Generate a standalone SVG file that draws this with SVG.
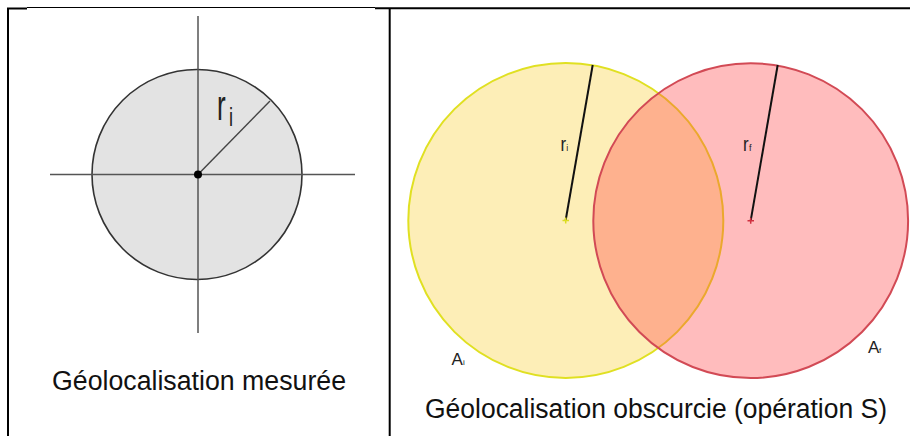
<svg xmlns="http://www.w3.org/2000/svg" width="911" height="436" viewBox="0 0 911 436">
<style>
.border{stroke:#000;stroke-width:2;fill:none}
.axis{stroke:#555;stroke-width:1.5;fill:none}
.rad{stroke:#111;stroke-width:2;fill:none}
.cap{font-family:"Liberation Sans",Arial,sans-serif;fill:#111}
.lbl{font-family:"Liberation Sans",Arial,sans-serif;fill:#222}
</style>
<rect width="911" height="436" fill="#fff"/>
<g id="table">
<line class="border" x1="8" y1="8" x2="8" y2="436"/>
<line class="border" x1="389.7" y1="8" x2="389.7" y2="436"/>
<line class="border" x1="7" y1="8.5" x2="27" y2="8.5"/>
<line x1="27" y1="7.5" x2="375" y2="7.5" stroke="#000" stroke-width="1"/>
<line class="border" x1="375" y1="8.3" x2="910" y2="8.3"/>
</g>
<g id="measured">
<circle cx="197" cy="174.5" r="105" fill="#e3e3e3" stroke="#333" stroke-width="1.6"/>
<line class="axis" x1="198" y1="16" x2="198" y2="333"/>
<line class="axis" x1="50" y1="174.5" x2="355" y2="174.5"/>
<line x1="198" y1="174.5" x2="270" y2="101" stroke="#444" stroke-width="1.4"/>
<circle cx="198" cy="174.5" r="4" fill="#000"/>
<text class="lbl" transform="translate(217,120) scale(0.62,1)" font-size="42">r</text>
<text class="lbl" transform="translate(229,126) scale(0.7,1)" font-size="26">i</text>
<text class="cap" x="52" y="390" font-size="27" textLength="294" lengthAdjust="spacingAndGlyphs">Géolocalisation mesurée</text>
</g>
<g id="obscured">
<g id="circle-i">
<circle cx="565.8" cy="220.5" r="157.5" fill="#fdeeb7" stroke="#e0e022" stroke-width="2"/>
</g>
<g id="circle-f">
<circle cx="750.7" cy="220.7" r="157.4" fill="rgb(255,64,66)" fill-opacity="0.35" stroke="#d24a55" stroke-width="2"/>
</g>
<g id="radii">
<line class="rad" x1="565.7" y1="220" x2="592.7" y2="65"/>
<line class="rad" x1="750.7" y1="220.7" x2="777.7" y2="65"/>
<path d="M562.5 220.5h6.5M565.7 217.5v6" stroke="#dcdc20" stroke-width="1.5"/>
<path d="M747.5 220.7h6.5M750.7 217.7v6" stroke="#d03040" stroke-width="1.5"/>
</g>
<text class="lbl" transform="translate(560.5,151) scale(0.8,1)" font-size="21">r</text>
<text class="lbl" x="566.3" y="151" font-size="9">i</text>
<text class="lbl" transform="translate(743,151) scale(0.8,1)" font-size="21">r</text>
<text class="lbl" x="749" y="151" font-size="9">f</text>
<text class="lbl" x="451.5" y="365" font-size="17">A</text>
<text class="lbl" x="463" y="365" font-size="8">i</text>
<text class="lbl" x="868" y="353" font-size="17">A</text>
<text class="lbl" x="879" y="353" font-size="8">f</text>
<text class="cap" x="425" y="418" font-size="27" textLength="462" lengthAdjust="spacingAndGlyphs">Géolocalisation obscurcie (opération S)</text>
</g>
</svg>
